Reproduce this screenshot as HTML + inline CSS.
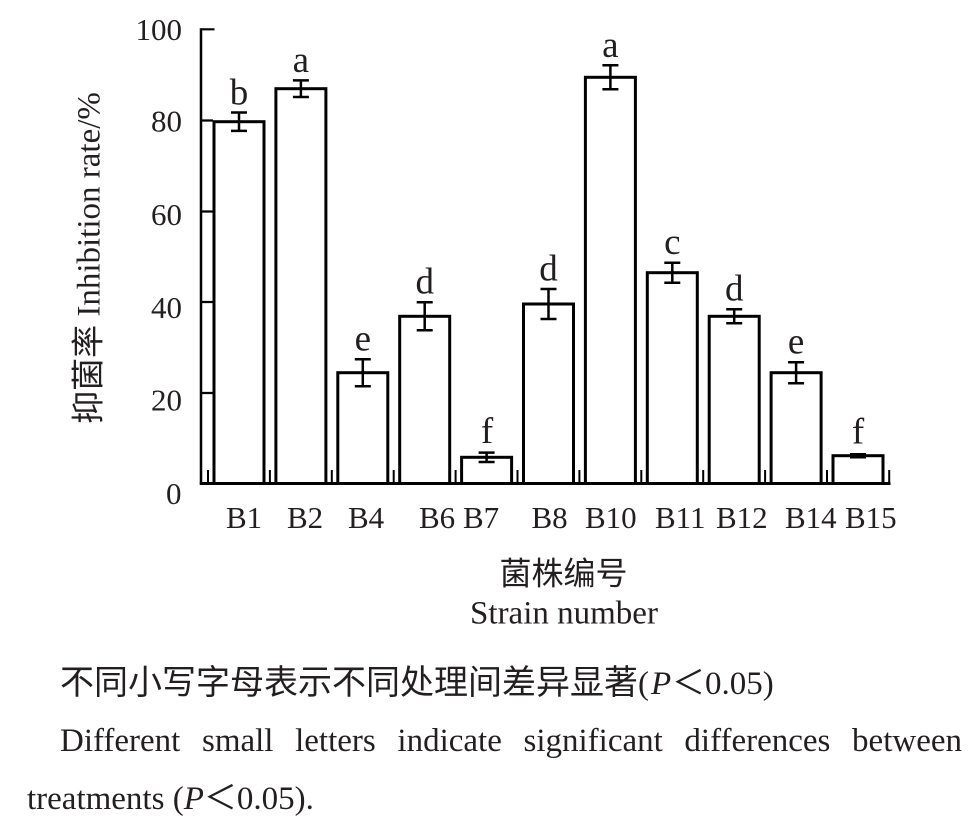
<!DOCTYPE html>
<html>
<head>
<meta charset="utf-8">
<style>
html,body{margin:0;padding:0;background:#fff;}
body{width:974px;height:827px;overflow:hidden;position:relative;}
svg{position:absolute;left:0;top:0;}
.cap{position:absolute;font-family:"Liberation Serif","Noto Sans CJK SC",serif;font-size:33px;color:#231f20;white-space:nowrap;line-height:1;}
.cjk{font-family:"Noto Sans CJK SC","WenQuanYi Zen Hei",sans-serif;}
</style>
</head>
<body>
<svg width="974" height="827" viewBox="0 0 974 827" xmlns="http://www.w3.org/2000/svg">
  <g fill="#fff" stroke="#000" stroke-width="3">
    <rect x="214" y="121.7" width="50" height="361.8"/>
    <rect x="275.9" y="88.7" width="50" height="394.8"/>
    <rect x="337.8" y="372.7" width="50" height="110.8"/>
    <rect x="399.7" y="316.3" width="50" height="167.2"/>
    <rect x="461.6" y="457.3" width="50" height="26.2"/>
    <rect x="523.5" y="304" width="50" height="179.5"/>
    <rect x="585.4" y="77.3" width="50" height="406.2"/>
    <rect x="647.3" y="272.7" width="50" height="210.8"/>
    <rect x="709.2" y="316.3" width="50" height="167.2"/>
    <rect x="771.1" y="372.7" width="50" height="110.8"/>
    <rect x="833" y="455.7" width="50" height="27.8"/>
  </g>
  <!-- error bars -->
  <g stroke="#000" stroke-width="2.5" fill="none">
    <path d="M239 112.5V130.9M231 112.5H247M231 130.9H247"/>
    <path d="M300.9 80.4V97M292.9 80.4H308.9M292.9 97H308.9"/>
    <path d="M362.8 359.2V386.2M354.8 359.2H370.8M354.8 386.2H370.8"/>
    <path d="M424.7 302.3V330.3M416.7 302.3H432.7M416.7 330.3H432.7"/>
    <path d="M486.6 452.6V462M478.6 452.6H494.6M478.6 462H494.6"/>
    <path d="M548.5 289V319M540.5 289H556.5M540.5 319H556.5"/>
    <path d="M610.4 65.3V89.3M602.4 65.3H618.4M602.4 89.3H618.4"/>
    <path d="M672.3 262.7V282.7M664.3 262.7H680.3M664.3 282.7H680.3"/>
    <path d="M734.2 309.3V323.3M726.2 309.3H742.2M726.2 323.3H742.2"/>
    <path d="M796.1 362.2V383.2M788.1 362.2H804.1M788.1 383.2H804.1"/>
    <path d="M858 454.2V457.2M850 454.2H866M850 457.2H866"/>
  </g>
  <!-- axes -->
  <g stroke="#000" fill="none">
    <path d="M201 28.3V484.5" stroke-width="2.5"/>
    <path d="M199.8 483.5H890.5" stroke-width="3"/>
    <path d="M201 29.3H214.5M201 120.5H213M201 211.5H213M201 302H213M201 393H213" stroke-width="2.2"/>
    <path d="M208 470V483M269.9 470V483M331.8 470V483M393.7 470V483M455.6 470V483M517.5 470V483M579.4 470V483M641.3 470V483M703.2 470V483M765.1 470V483M827 470V483M889.2 470V483" stroke-width="2"/>
  </g>
  <!-- significance letters -->
  <g font-family="'Liberation Serif',serif" font-size="37" fill="#231f20" text-anchor="middle">
    <text x="239" y="104.5">b</text>
    <text x="300.9" y="72">a</text>
    <text x="362.8" y="350.5">e</text>
    <text x="424.7" y="293.5">d</text>
    <text x="487" y="443">f</text>
    <text x="548.5" y="280.5">d</text>
    <text x="610.4" y="57">a</text>
    <text x="672.3" y="254">c</text>
    <text x="734.2" y="300.5">d</text>
    <text x="796.1" y="353.5">e</text>
    <text x="858" y="443.5">f</text>
  </g>
  <!-- y tick labels -->
  <g font-family="'Liberation Serif',serif" font-size="31" fill="#231f20" text-anchor="end">
    <text x="182" y="40">100</text>
    <text x="182" y="131.7">80</text>
    <text x="182" y="225">60</text>
    <text x="182" y="318">40</text>
    <text x="182" y="410.5">20</text>
    <text x="181.5" y="504">0</text>
  </g>
  <!-- x labels -->
  <g font-family="'Liberation Serif',serif" font-size="31" fill="#231f20">
    <text x="226" y="528">B1</text>
    <text x="287" y="528">B2</text>
    <text x="348" y="528">B4</text>
    <text x="419" y="528">B6</text>
    <text x="463" y="528">B7</text>
    <text x="531.5" y="528">B8</text>
    <text x="585" y="528">B10</text>
    <text x="655" y="528">B11</text>
    <text x="716" y="528">B12</text>
    <text x="785" y="528">B14</text>
    <text x="845" y="528">B15</text>
  </g>
  <!-- y title -->
  <text transform="translate(99.5,258) rotate(-90)" text-anchor="middle" font-family="'Liberation Serif','Noto Sans CJK SC',serif" font-size="33" fill="#231f20"><tspan font-family="'Noto Sans CJK SC',sans-serif">抑菌率</tspan> Inhibition rate/%</text>
  <!-- x title -->
  <text x="563.5" y="584.5" text-anchor="middle" font-family="'Noto Sans CJK SC',sans-serif" font-size="32" fill="#231f20">菌株编号</text>
  <text x="564" y="623.5" text-anchor="middle" font-family="'Liberation Serif',serif" font-size="33" fill="#231f20">Strain number</text>
  <!-- caption line 1 -->
  <text x="60" y="694" font-family="'Noto Sans CJK SC',sans-serif" font-size="34" fill="#231f20">不同小写字母表示不同处理间差异显著</text>
  <text x="638" y="694" font-family="'Liberation Serif',serif" font-size="33" fill="#231f20">(</text>
  <text x="651" y="694" font-family="'Liberation Serif',serif" font-style="italic" font-size="33" fill="#231f20">P</text>
  <text x="672" y="694" font-family="'Noto Sans CJK SC',sans-serif" font-size="33" fill="#231f20">＜</text>
  <text x="705" y="694" font-family="'Liberation Serif',serif" font-size="33" fill="#231f20">0.05)</text>
</svg>
<div class="cap" style="left:60px;top:725px;width:902px;text-align:justify;text-align-last:justify;">Different small letters indicate significant differences between</div>
<div class="cap" style="left:27px;top:779px;">treatments (<i>P</i><span class="cjk">＜</span>0.05).</div>
</body>
</html>
